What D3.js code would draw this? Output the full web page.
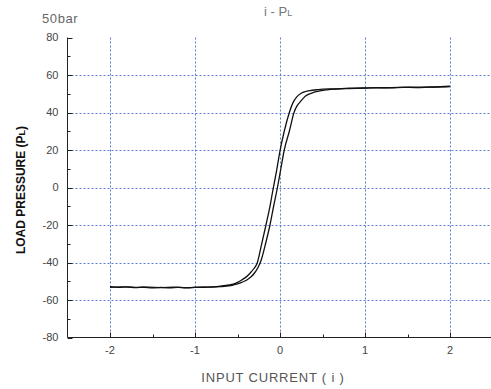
<!DOCTYPE html>
<html>
<head>
<meta charset="utf-8">
<script src="https://cdn.jsdelivr.net/npm/d3@7"></script>
<style>
  body { margin: 0; background: #fff; }
  text { font-family: "Liberation Sans", Arial, sans-serif; }
</style>
</head>
<body>
<svg id="chart" width="491" height="389"></svg>
<script>
// tick values
var xTicks = [-2, -1, 0, 1, 2];
var xMinorTicks = [-1.5, -0.5, 0.5, 1.5];
var yTicks = [-80, -60, -40, -20, 0, 20, 40, 60, 80];
var yMinorTicks = [-70, -50, -30, -10, 10, 30, 50, 70];
var yGrid = [-60, -40, -20, 0, 20, 40, 60];

// left (outer) branch of the loop
var leftCurrent = [-2.0, -1.9, -1.8, -1.7, -1.6, -1.5, -1.4, -1.3, -1.2, -1.1, -1.0, -0.9, -0.8, -0.7, -0.6, -0.55, -0.5, -0.45, -0.4, -0.35, -0.3, -0.27, -0.22, -0.165, -0.12, -0.086, -0.04, 0.0, 0.05, 0.11, 0.15, 0.2, 0.25, 0.3, 0.35, 0.45, 0.6, 0.8, 1.0, 1.2, 1.4, 1.6, 1.8, 2.0];
var leftPressure = [-52.9, -53.3, -53.0, -53.4, -53.2, -53.5, -53.3, -53.5, -53.3, -53.5, -53.3, -53.2, -53.0, -52.6, -52.0, -51.5, -50.6, -49.3, -47.8, -45.6, -42.8, -40.5, -31, -20, -10.5, -2, 9, 19.5, 30, 40, 45, 48.5, 50.3, 51.2, 51.7, 52.2, 52.6, 52.9, 53.1, 53.2, 53.4, 53.5, 53.6, 54.0];

// right (inner) branch of the loop
var rightCurrent = [-2.0, -1.85, -1.7, -1.55, -1.4, -1.25, -1.1, -0.95, -0.8, -0.7, -0.6, -0.55, -0.5, -0.45, -0.39, -0.34, -0.3, -0.26, -0.22, -0.17, -0.118, -0.075, -0.03, 0.01, 0.05, 0.11, 0.165, 0.2, 0.235, 0.3, 0.38, 0.47, 0.6, 0.8, 1.0, 1.15, 1.3, 1.45, 1.6, 1.75, 1.9, 2.0];
var rightPressure = [-53.2, -53.0, -53.3, -53.1, -53.4, -53.2, -53.4, -53.2, -53.1, -52.9, -52.5, -52.0, -51.4, -50.6, -49.3, -47.6, -45.6, -42.8, -38.5, -30, -20, -10, 0, 10, 20, 30, 40, 43.5, 45.5, 48.8, 50.5, 51.5, 52.3, 52.8, 53.0, 53.3, 53.1, 53.4, 53.3, 53.5, 53.7, 53.8];

var svg = d3.select("#chart"),
  width = +svg.attr("width"),
  height = +svg.attr("height");

var x = d3.scaleLinear().domain([-2.5, 2.5]).range([67.5, 492.5]);
var y = d3.scaleLinear().domain([-80, 80]).range([337.5, 37.5]);

var gridColor = "#5b7bcc";

// grid
svg.append("g")
  .selectAll("line")
  .data(yGrid)
  .join("line")
  .attr("x1", x(-2.5))
  .attr("x2", width)
  .attr("y1", function (d) { return Math.round(y(d)) + 0.5; })
  .attr("y2", function (d) { return Math.round(y(d)) + 0.5; })
  .attr("stroke", gridColor)
  .attr("stroke-width", 1)
  .attr("stroke-dasharray", "2,2");

svg.append("g")
  .selectAll("line")
  .data(xTicks)
  .join("line")
  .attr("x1", function (d) { return Math.round(x(d)) + 0.5; })
  .attr("x2", function (d) { return Math.round(x(d)) + 0.5; })
  .attr("y1", y(80))
  .attr("y2", y(-80))
  .attr("stroke", gridColor)
  .attr("stroke-width", 1)
  .attr("stroke-dasharray", "2,2");

// axes
var axisColor = "#222";
var yAxis = svg.append("g").attr("transform", "translate(" + 67.5 + ",0)");
yAxis.append("line").attr("y1", y(80)).attr("y2", y(-80)).attr("stroke", axisColor);
yAxis.selectAll(".maj")
  .data(yTicks)
  .join("line")
  .attr("class", "maj")
  .attr("x1", 0).attr("x2", 5)
  .attr("y1", function (d) { return Math.round(y(d)) + 0.5; })
  .attr("y2", function (d) { return Math.round(y(d)) + 0.5; })
  .attr("stroke", axisColor);
yAxis.selectAll(".min")
  .data(yMinorTicks)
  .join("line")
  .attr("class", "min")
  .attr("x1", 0).attr("x2", 3)
  .attr("y1", function (d) { return Math.round(y(d)) + 0.5; })
  .attr("y2", function (d) { return Math.round(y(d)) + 0.5; })
  .attr("stroke", axisColor);
yAxis.selectAll("text")
  .data(yTicks)
  .join("text")
  .attr("x", -9)
  .attr("y", function (d) { return y(d); })
  .attr("dy", "0.35em")
  .attr("text-anchor", "end")
  .attr("font-size", 11)
  .attr("fill", "#444")
  .text(function (d) { return d; });

var xAxis = svg.append("g").attr("transform", "translate(0," + 337.5 + ")");
xAxis.append("line").attr("x1", x(-2.5)).attr("x2", width).attr("stroke", axisColor);
xAxis.selectAll(".maj")
  .data(xTicks)
  .join("line")
  .attr("class", "maj")
  .attr("y1", 0).attr("y2", -5)
  .attr("x1", function (d) { return Math.round(x(d)) + 0.5; })
  .attr("x2", function (d) { return Math.round(x(d)) + 0.5; })
  .attr("stroke", axisColor);
xAxis.selectAll(".min")
  .data(xMinorTicks)
  .join("line")
  .attr("class", "min")
  .attr("y1", 0).attr("y2", -3)
  .attr("x1", function (d) { return Math.round(x(d)) + 0.5; })
  .attr("x2", function (d) { return Math.round(x(d)) + 0.5; })
  .attr("stroke", axisColor);
xAxis.selectAll("text")
  .data(xTicks)
  .join("text")
  .attr("x", function (d) { return x(d); })
  .attr("y", 16)
  .attr("text-anchor", "middle")
  .attr("font-size", 11)
  .attr("fill", "#444")
  .text(function (d) { return d; });

// hysteresis curves
var line = d3.line()
  .x(function (d) { return x(d[0]); })
  .y(function (d) { return y(d[1]); })
  .curve(d3.curveMonotoneX);

svg.append("path")
  .datum(d3.zip(leftCurrent, leftPressure))
  .attr("d", line)
  .attr("fill", "none")
  .attr("stroke", "#111")
  .attr("stroke-width", 1.3);

svg.append("path")
  .datum(d3.zip(rightCurrent, rightPressure))
  .attr("d", line)
  .attr("fill", "none")
  .attr("stroke", "#111")
  .attr("stroke-width", 1.3);

// labels
svg.append("text")
  .attr("x", 42).attr("y", 23)
  .attr("font-size", 13)
  .attr("letter-spacing", 0.6)
  .attr("fill", "#666")
  .text("50bar");

var title = svg.append("text")
  .attr("x", 264).attr("y", 16)
  .attr("font-size", 13)
  .attr("fill", "#777");
title.append("tspan").text("i - P");
title.append("tspan").attr("font-size", 9).text("L");

var yLabel = svg.append("text")
  .attr("transform", "translate(25,190) rotate(-90)")
  .attr("text-anchor", "middle")
  .attr("font-size", 12)
  .attr("font-weight", "bold")
  .attr("fill", "#111");
yLabel.append("tspan").text("LOAD PRESSURE (P");
yLabel.append("tspan").attr("font-size", 9).text("L");
yLabel.append("tspan").text(")");

svg.append("text")
  .attr("x", 273).attr("y", 382)
  .attr("text-anchor", "middle")
  .attr("font-size", 13)
  .attr("letter-spacing", 0.8)
  .attr("fill", "#555")
  .text("INPUT CURRENT ( i )");
</script>
</body>
</html>
